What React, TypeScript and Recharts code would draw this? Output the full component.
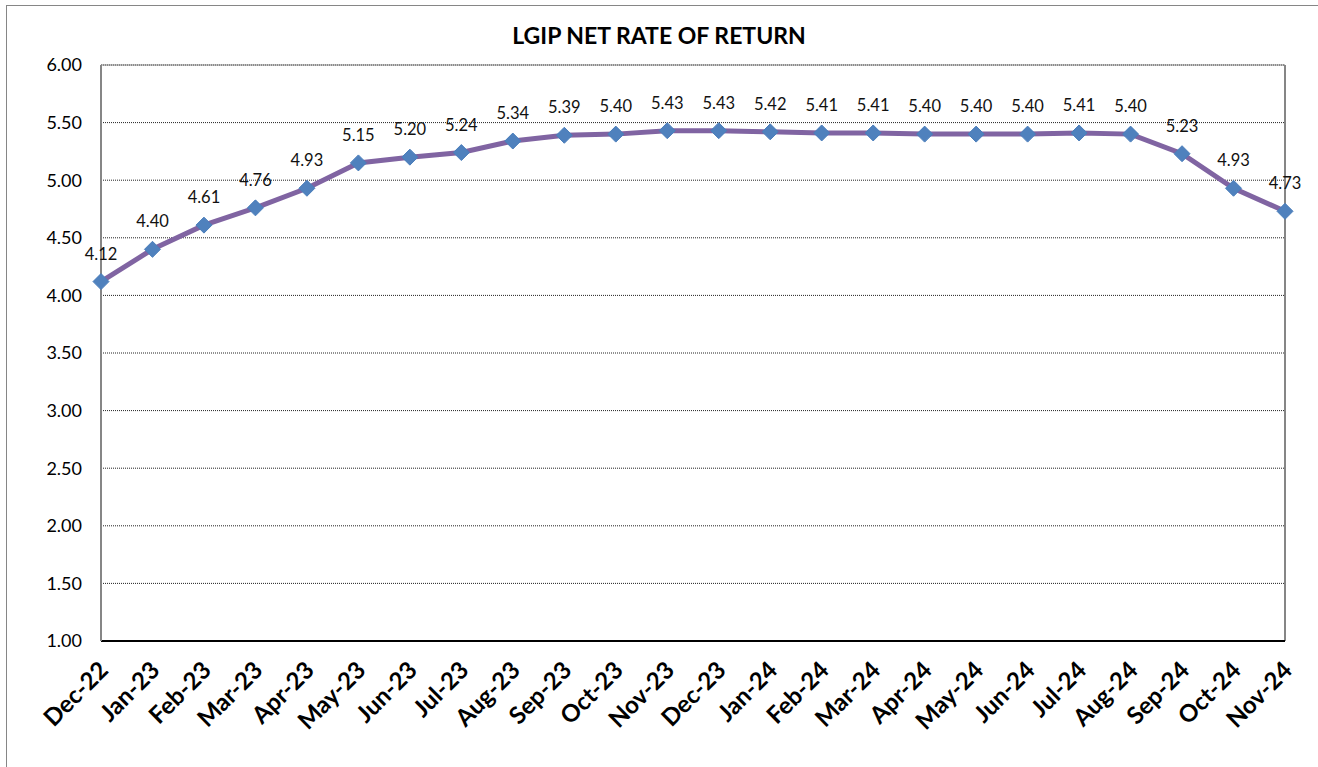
import React from 'react';
import { LineChart, Line, XAxis, YAxis, CartesianGrid, ReferenceLine, LabelList } from 'recharts';

const months = [
  'Dec-22', 'Jan-23', 'Feb-23', 'Mar-23', 'Apr-23', 'May-23', 'Jun-23', 'Jul-23',
  'Aug-23', 'Sep-23', 'Oct-23', 'Nov-23', 'Dec-23', 'Jan-24', 'Feb-24', 'Mar-24',
  'Apr-24', 'May-24', 'Jun-24', 'Jul-24', 'Aug-24', 'Sep-24', 'Oct-24', 'Nov-24',
];

const netRate = [
  4.12, 4.40, 4.61, 4.76, 4.93, 5.15, 5.20, 5.24, 5.34, 5.39, 5.40, 5.43,
  5.43, 5.42, 5.41, 5.41, 5.40, 5.40, 5.40, 5.41, 5.40, 5.23, 4.93, 4.73,
];

const yTicks = [1, 1.5, 2, 2.5, 3, 3.5, 4, 4.5, 5, 5.5, 6];

const data = months.map((m, i) => ({ month: m, rate: netRate[i] }));

const FONT = 'Lato, "DejaVu Sans", sans-serif';

const Diamond = (props: any) => {
  const { cx, cy } = props;
  if (cx == null || cy == null) return null;
  const r = 8;
  return (
    <polygon
      points={`${cx},${cy - r} ${cx + r},${cy} ${cx},${cy + r} ${cx - r},${cy}`}
      fill="#4f81bd"
      stroke="#4a7ebb"
      strokeWidth={1}
    />
  );
};

// rotated, bold month labels under the axis
const MonthTick = (props: any) => {
  const { x, y, payload } = props;
  const tx = x + 2;
  const ty = y + 16;
  return (
    <text
      x={tx}
      y={ty}
      transform={`rotate(-45, ${tx}, ${ty})`}
      textAnchor="end"
      dominantBaseline="central"
      fontFamily={FONT}
      fontWeight={700}
      fontSize={24}
      fill="#000"
    >
      {payload.value}
    </text>
  );
};

const RateLabel = (props: any) => {
  const { x, y, value } = props;
  return (
    <text
      x={x}
      y={y - 28}
      textAnchor="middle"
      dominantBaseline="central"
      fontFamily={FONT}
      fontSize={16.5}
      fill="#111"
    >
      {Number(value).toFixed(2)}
    </text>
  );
};

export default function App() {
  return (
    <div style={{ position: 'absolute', left: 0, top: 0, width: 1318, height: 767, background: '#fff', overflow: 'hidden' }}>
      <div style={{ position: 'absolute', left: 6, top: 5, width: 1330, height: 790, border: '1px solid #868686' }} />
      <div
        style={{
          position: 'absolute', left: 0, top: 21, width: 1318, textAlign: 'center',
          fontFamily: FONT, fontWeight: 700, fontSize: 23, color: '#000',
        }}
      >
        LGIP NET RATE OF RETURN
      </div>
      <div style={{ position: 'absolute', left: 0, top: 0 }}>
        <LineChart width={1318} height={767} data={data} margin={{ top: 65, right: 33, left: 0, bottom: 0 }}>
          <CartesianGrid horizontal vertical={false} stroke="#222" strokeDasharray="1 1" />
          <XAxis
            dataKey="month"
            height={126}
            interval={0}
            padding={{ left: 0, right: 0 }}
            tick={<MonthTick />}
            tickLine={false}
            axisLine={{ stroke: '#000', strokeWidth: 2 }}
          />
          <YAxis
            domain={[1, 6]}
            ticks={yTicks}
            width={101}
            tickSize={0}
            tickMargin={19}
            tickFormatter={(v: number) => v.toFixed(2)}
            tick={{ fontFamily: FONT, fontSize: 18, fill: '#000' }}
            tickLine={false}
            axisLine={{ stroke: '#868686', strokeWidth: 2 }}
          />
          <ReferenceLine y={6} stroke="#868686" strokeWidth={1} />
          <ReferenceLine x="Nov-24" stroke="#868686" strokeWidth={2} />
          <Line
            type="linear"
            dataKey="rate"
            stroke="#8064a2"
            strokeWidth={5}
            dot={<Diamond />}
            activeDot={false}
            isAnimationActive={false}
          >
            <LabelList dataKey="rate" content={<RateLabel />} />
          </Line>
        </LineChart>
      </div>
    </div>
  );
}
